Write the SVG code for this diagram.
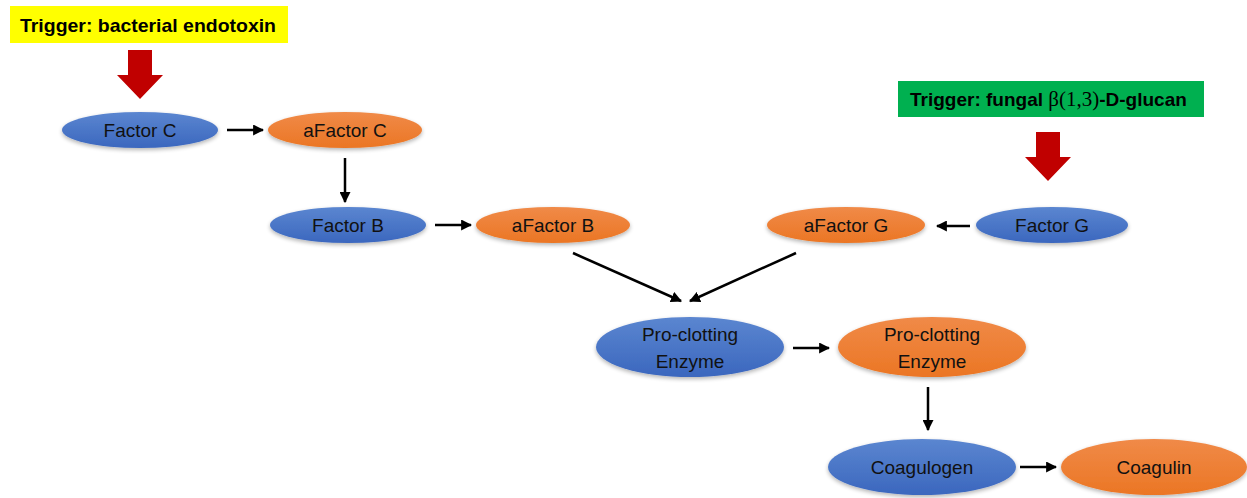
<svg xmlns="http://www.w3.org/2000/svg" width="1247" height="498" viewBox="0 0 1247 498">
<defs>
<linearGradient id="gb" x1="0" y1="0" x2="0" y2="1"><stop offset="0" stop-color="#5B86D0"/><stop offset="1" stop-color="#3B67BE"/></linearGradient>
<linearGradient id="go" x1="0" y1="0" x2="0" y2="1"><stop offset="0" stop-color="#F08A48"/><stop offset="1" stop-color="#EB7624"/></linearGradient>
<filter id="sh" x="-10%" y="-20%" width="120%" height="150%"><feGaussianBlur in="SourceAlpha" stdDeviation="2"/><feOffset dy="2"/><feComponentTransfer><feFuncA type="linear" slope="0.3"/></feComponentTransfer><feMerge><feMergeNode/><feMergeNode in="SourceGraphic"/></feMerge></filter>
<marker id="ah" viewBox="0 0 10 10" refX="9" refY="5" markerWidth="4.4" markerHeight="4.4" orient="auto" markerUnits="strokeWidth"><path d="M0,0 L10,5 L0,10 z" fill="#000"/></marker>
<style>
.b{fill:url(#gb);filter:url(#sh)}
.o{fill:url(#go);filter:url(#sh)}
.t{font-family:"Liberation Sans",Arial,sans-serif;font-size:19px;fill:#111;text-anchor:middle}
.c{stroke:#000;stroke-width:2.5;fill:none;marker-end:url(#ah)}
.tr{font-family:"Liberation Sans",Arial,sans-serif;font-size:19px;font-weight:bold;fill:#000}
.red{fill:#C00000}
</style>
</defs>
<g id="trigger-endotoxin">
<rect x="10" y="6" width="278" height="37" fill="#FFFF00"/>
<text class="tr" x="20" y="32" textLength="256" lengthAdjust="spacingAndGlyphs">Trigger: bacterial endotoxin</text>
<path class="red" d="M128,50 H152 V75 H163 L140,99 L117,75 H128 Z"/>
</g>
<g id="trigger-glucan">
<rect x="898" y="81" width="306" height="36" fill="#00B050"/>
<text class="tr" x="910" y="106">Trigger: fungal <tspan font-family="'Liberation Serif',serif" font-weight="normal" font-size="21">β(1,3)</tspan>-D-glucan</text>
<path class="red" d="M1036,132 H1060 V157 H1071 L1048,181 L1025,157 H1036 Z"/>
</g>
<g id="factor-c"><ellipse class="b" cx="140" cy="130" rx="78" ry="18"/><text class="t" x="140" y="137">Factor C</text></g>
<g id="afactor-c"><ellipse class="o" cx="345" cy="130" rx="77" ry="18"/><text class="t" x="345" y="137">aFactor C</text></g>
<g id="factor-b"><ellipse class="b" cx="348" cy="225" rx="78" ry="18"/><text class="t" x="348" y="232">Factor B</text></g>
<g id="afactor-b"><ellipse class="o" cx="553" cy="225" rx="77" ry="18"/><text class="t" x="553" y="232">aFactor B</text></g>
<g id="afactor-g"><ellipse class="o" cx="846" cy="225" rx="79" ry="18"/><text class="t" x="846" y="232">aFactor G</text></g>
<g id="factor-g"><ellipse class="b" cx="1052" cy="225" rx="76" ry="18"/><text class="t" x="1052" y="232">Factor G</text></g>
<g id="proclotting-enzyme"><ellipse class="b" cx="690" cy="347" rx="94" ry="30"/><text class="t" x="690" y="341">Pro-clotting</text><text class="t" x="690" y="368">Enzyme</text></g>
<g id="clotting-enzyme"><ellipse class="o" cx="932" cy="347" rx="94" ry="30"/><text class="t" x="932" y="341">Pro-clotting</text><text class="t" x="932" y="368">Enzyme</text></g>
<g id="coagulogen"><ellipse class="b" cx="922" cy="467" rx="94" ry="28"/><text class="t" x="922" y="474">Coagulogen</text></g>
<g id="coagulin"><ellipse class="o" cx="1154" cy="467" rx="93" ry="28"/><text class="t" x="1154" y="474">Coagulin</text></g>
<g id="connectors">
<line class="c" x1="227" y1="130" x2="263" y2="130"/>
<line class="c" x1="345" y1="158" x2="345" y2="202"/>
<line class="c" x1="435" y1="225" x2="471" y2="225"/>
<line class="c" x1="970" y1="226" x2="937" y2="226"/>
<line class="c" x1="573" y1="253" x2="681" y2="301"/>
<line class="c" x1="796" y1="253" x2="690" y2="301"/>
<line class="c" x1="793" y1="348" x2="829" y2="348"/>
<line class="c" x1="928" y1="387" x2="928" y2="430"/>
<line class="c" x1="1020" y1="467" x2="1056" y2="467"/>
</g>
</svg>
